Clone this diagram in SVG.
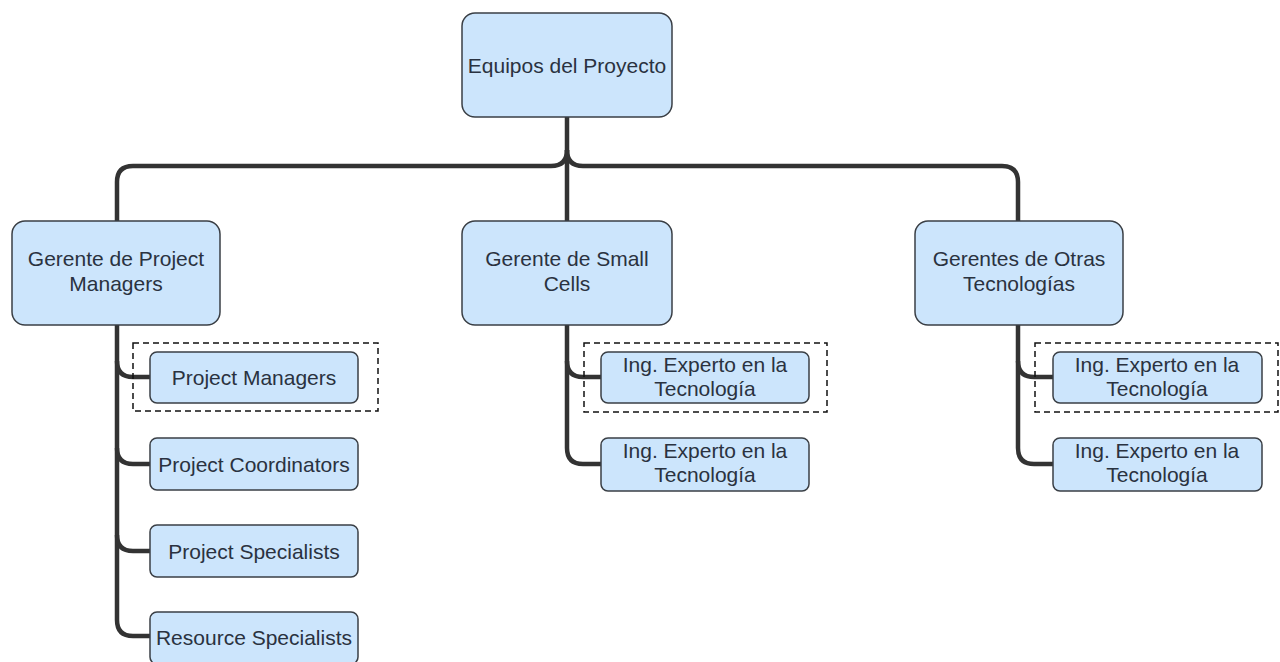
<svg xmlns="http://www.w3.org/2000/svg" width="1280" height="662" viewBox="0 0 1280 662">
<style>
.n rect{fill:#cce5fc;stroke:#3a3f45;stroke-width:1.5}
.n text{font-family:"Liberation Sans",Arial,sans-serif;font-size:21px;fill:#2a3240;text-anchor:middle}
.c path{fill:none;stroke:#333;stroke-width:4.5}
.d{fill:none;stroke:#111;stroke-width:1.5;stroke-dasharray:6 4}
</style>
<rect width="1280" height="662" fill="#fff"/>
<g class="c" id="connectors">
<path d="M567 117 L567 221"/>
<path d="M567 150 Q567 166 551 166 L133 166 Q117 166 117 182 L117 221"/>
<path d="M567 150 Q567 166 583 166 L1002 166 Q1018 166 1018 182 L1018 221"/>
<path d="M117 325 L117 620 Q117 636 133 636 L151 636"/>
<path d="M117 361 Q117 377 133 377 L151 377"/>
<path d="M117 448 Q117 464 133 464 L151 464"/>
<path d="M117 535 Q117 551 133 551 L151 551"/>
<path d="M567 325 L567 448 Q567 464 583 464 L601 464"/>
<path d="M567 361 Q567 377 583 377 L601 377"/>
<path d="M1018 325 L1018 448 Q1018 464 1034 464 L1053 464"/>
<path d="M1018 361 Q1018 377 1034 377 L1053 377"/>
</g>
<g id="groups">
<rect class="d" x="133" y="343" width="245" height="68"/>
<rect class="d" x="584" y="343" width="243" height="69"/>
<rect class="d" x="1035" y="343" width="243" height="69"/>
</g>
<g class="n" id="root"><rect x="462" y="13" width="210" height="104" rx="13"/><text x="567" y="73">Equipos del Proyecto</text></g>
<g class="n" id="gpm"><rect x="12" y="221" width="208" height="104" rx="13"/><text x="116" y="266">Gerente de Project</text><text x="116" y="291">Managers</text></g>
<g class="n" id="gsc"><rect x="462" y="221" width="210" height="104" rx="13"/><text x="567" y="266">Gerente de Small</text><text x="567" y="291">Cells</text></g>
<g class="n" id="got"><rect x="915" y="221" width="208" height="104" rx="13"/><text x="1019" y="266">Gerentes de Otras</text><text x="1019" y="291">Tecnologías</text></g>
<g class="n" id="pm"><rect x="150" y="352" width="208" height="51" rx="7"/><text x="254" y="385">Project Managers</text></g>
<g class="n" id="pc"><rect x="150" y="438" width="208" height="52" rx="7"/><text x="254" y="472">Project Coordinators</text></g>
<g class="n" id="ps"><rect x="150" y="525" width="208" height="52" rx="7"/><text x="254" y="559">Project Specialists</text></g>
<g class="n" id="rs"><rect x="150" y="612" width="208" height="52" rx="7"/><text x="254" y="645">Resource Specialists</text></g>
<g class="n" id="sc1"><rect x="601" y="352" width="208" height="51" rx="7"/><text x="705" y="372">Ing. Experto en la</text><text x="705" y="396">Tecnología</text></g>
<g class="n" id="sc2"><rect x="601" y="438" width="208" height="53" rx="7"/><text x="705" y="458">Ing. Experto en la</text><text x="705" y="482">Tecnología</text></g>
<g class="n" id="ot1"><rect x="1053" y="352" width="209" height="51" rx="7"/><text x="1157" y="372">Ing. Experto en la</text><text x="1157" y="396">Tecnología</text></g>
<g class="n" id="ot2"><rect x="1053" y="438" width="209" height="53" rx="7"/><text x="1157" y="458">Ing. Experto en la</text><text x="1157" y="482">Tecnología</text></g>
</svg>
